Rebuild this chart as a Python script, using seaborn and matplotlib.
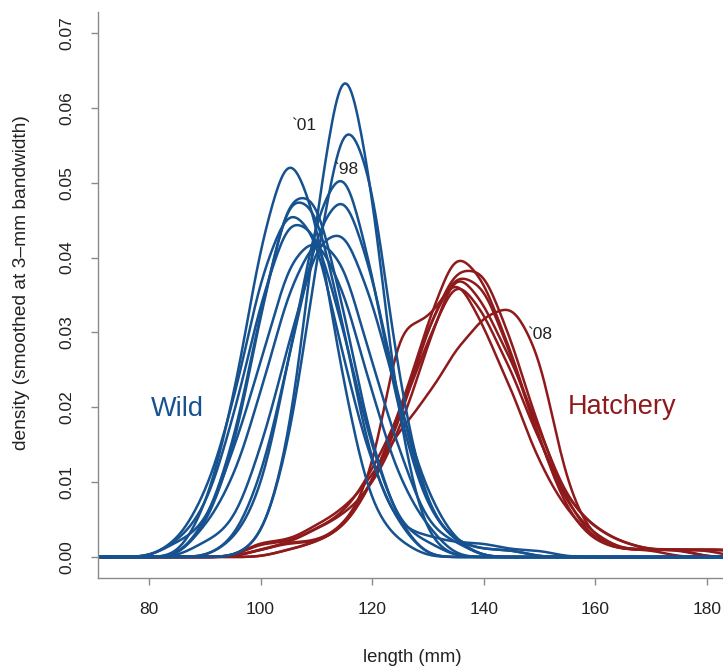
import numpy as np
import seaborn as sns
import matplotlib
matplotlib.use("Agg")
import matplotlib.pyplot as plt

# Fork length classes (mm) and fish counts per class, one list per sampling year
WILD_LENGTHS = [80, 85, 90, 95, 100, 105, 110, 115, 120, 125, 130, 135, 140, 145, 150]
wild_1997 = [0, 1, 2, 7, 13, 20, 22, 18, 11, 5, 2, 0, 0, 0, 0]
wild_1998 = [0, 0, 0, 0, 2, 14, 40, 62, 52, 22, 6, 2, 1, 1, 0]
wild_1999 = [0, 0, 3, 10, 21, 28, 23, 11, 3, 1, 0, 0, 0, 0, 0]
wild_2000 = [0, 0, 0, 1, 4, 13, 23, 27, 19, 9, 3, 1, 0, 0, 0]
wild_2001 = [0, 0, 0, 0, 1, 7, 23, 36, 25, 8, 1, 0, 0, 0, 0]
wild_2002 = [0, 0, 4, 14, 34, 52, 50, 32, 12, 4, 3, 2, 2, 1, 1]
wild_2003 = [0, 0, 2, 7, 16, 24, 24, 16, 7, 2, 0, 0, 0, 0, 0]
wild_2004 = [0, 0, 0, 2, 10, 26, 44, 50, 38, 20, 6, 2, 1, 1, 0]
wild_2005 = [0, 1, 3, 9, 17, 23, 22, 15, 7, 2, 1, 0, 0, 0, 0]
wild_2006 = [0, 0, 1, 2, 7, 14, 21, 22, 17, 10, 4, 1, 0, 0, 0]
wild_2007 = [0, 0, 2, 5, 11, 18, 22, 20, 13, 7, 2, 1, 0, 0, 0]
wild_2008 = [0, 1, 4, 10, 19, 24, 22, 13, 6, 2, 0, 0, 0, 0, 0]

HATCHERY_LENGTHS = [100, 105, 110, 115, 120, 125, 130, 135, 140, 145,
                    150, 155, 160, 165, 170, 175, 180, 185]
hatchery_2002 = [0, 1, 2, 4, 10, 20, 32, 43, 38, 28, 16, 6, 2, 1, 1, 1, 0, 0]
hatchery_2003 = [1, 2, 2, 4, 10, 20, 32, 40, 38, 28, 16, 7, 3, 1, 1, 1, 1, 1]
hatchery_2004 = [0, 1, 2, 4, 10, 18, 31, 39, 39, 29, 17, 7, 2, 1, 1, 0, 0, 0]
hatchery_2005 = [1, 2, 2, 4, 10, 32, 30, 38, 30, 22, 12, 6, 2, 1, 1, 1, 1, 1]
hatchery_2006 = [2, 2, 4, 6, 12, 20, 30, 40, 34, 26, 16, 8, 4, 2, 1, 1, 1, 0]
hatchery_2007 = [1, 2, 4, 6, 10, 18, 30, 42, 36, 28, 18, 8, 4, 2, 1, 1, 1, 1]
hatchery_2008 = [2, 2, 4, 6, 10, 16, 20, 26, 30, 32, 26, 8, 2, 1, 1, 1, 0, 0]

wild_years = [wild_1997, wild_1998, wild_1999, wild_2000, wild_2001, wild_2002,
              wild_2003, wild_2004, wild_2005, wild_2006, wild_2007, wild_2008]
hatchery_years = [hatchery_2002, hatchery_2003, hatchery_2004, hatchery_2005,
                  hatchery_2006, hatchery_2007, hatchery_2008]

X_TICKS = [80, 100, 120, 140, 160, 180]
Y_TICKS = [0.00, 0.01, 0.02, 0.03, 0.04, 0.05, 0.06, 0.07]

BANDWIDTH_MM = 3.0
WILD_COLOR = "#16528f"
HATCH_COLOR = "#8e1a1c"
AXIS_GRAY = "#8a8a8a"
TEXT_COLOR = "#222222"

sns.set_style("ticks")
plt.rcParams["font.family"] = ["Liberation Sans", "DejaVu Sans"]

fig = plt.figure(figsize=(7.23, 6.69), dpi=100)
ax = fig.add_axes([98 / 723, 91 / 669, 625 / 723, 566 / 669])


def draw_density(lengths, counts, color):
    x = np.asarray(lengths, dtype=float)
    w = np.asarray(counts, dtype=float)
    keep = w > 0
    x, w = x[keep], w[keep]
    # kernel bandwidth fixed at 3 mm regardless of the spread of each year
    sd = np.sqrt(np.cov(x, aweights=w))
    sns.kdeplot(x=x, weights=w, bw_method=BANDWIDTH_MM / sd, cut=20,
                gridsize=800, color=color, linewidth=1.8, ax=ax)


for counts in hatchery_years:
    draw_density(HATCHERY_LENGTHS, counts, HATCH_COLOR)
for counts in wild_years:
    draw_density(WILD_LENGTHS, counts, WILD_COLOR)

ax.set_xlim(70.86, 182.9)
ax.set_ylim(-0.0028, 0.0728)
ax.set_xticks(X_TICKS)
ax.set_xticklabels([f"{v:d}" for v in X_TICKS])
ax.set_yticks(Y_TICKS)
ax.set_yticklabels([f"{v:.2f}" for v in Y_TICKS])
ax.set_xlabel("")
ax.set_ylabel("")

for side in ("top", "right"):
    ax.spines[side].set_visible(False)
for side in ("left", "bottom"):
    ax.spines[side].set_color(AXIS_GRAY)
    ax.spines[side].set_linewidth(1.0)

ax.tick_params(axis="both", direction="out", length=5, width=1.0,
               color=AXIS_GRAY, labelcolor=TEXT_COLOR, labelsize=12.5, pad=12)
ax.tick_params(axis="y", labelrotation=90)
for lab in ax.get_yticklabels():
    lab.set_verticalalignment("center")

# year labels and group names
ax.text(105.4, 0.0577, "`01", fontsize=12.5, color=TEXT_COLOR, ha="left", va="center")
ax.text(113.0, 0.0517, "`98", fontsize=12.5, color=TEXT_COLOR, ha="left", va="center")
ax.text(147.7, 0.0297, "`08", fontsize=12.5, color=TEXT_COLOR, ha="left", va="center")
ax.text(80.3, 0.0198, "Wild", fontsize=19.5, color=WILD_COLOR, ha="left", va="center")
ax.text(155.1, 0.0201, "Hatchery", fontsize=19.5, color=HATCH_COLOR, ha="left", va="center")

fig.text(412 / 723, 1 - 657 / 669, "length (mm)", fontsize=13.3, color=TEXT_COLOR,
         ha="center", va="center")
fig.text(22 / 723, 1 - 283 / 669, "density (smoothed at 3\u2013mm bandwidth)",
         fontsize=13.8, color=TEXT_COLOR, rotation=90, ha="center", va="center")

fig.savefig("out.png", dpi=100)
